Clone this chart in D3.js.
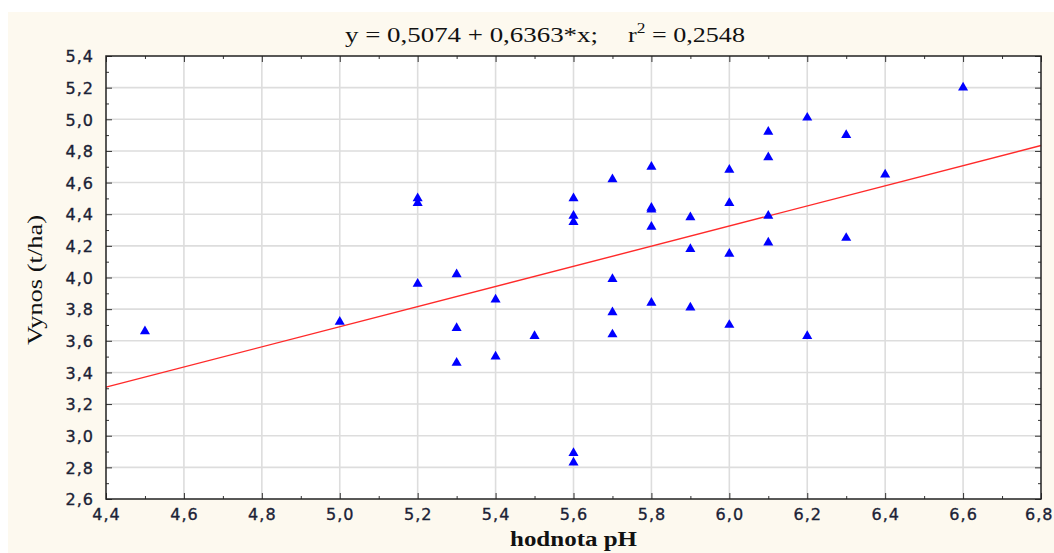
<!DOCTYPE html>
<html>
<head>
<meta charset="utf-8">
<script src="https://cdn.jsdelivr.net/npm/d3@7"></script>
<style>
  html, body { margin: 0; padding: 0; background: #ffffff; }
  svg { display: block; }
</style>
</head>
<body>
<svg id="chart" width="1054" height="553"></svg>
<script>
// ---- data ----
const phValues = [4.5, 5.0, 5.2, 5.2, 5.2, 5.3, 5.3, 5.3, 5.4, 5.4, 5.5,
  5.6, 5.6, 5.6, 5.6, 5.6, 5.7, 5.7, 5.7, 5.7,
  5.8, 5.8, 5.8, 5.8, 5.8, 5.9, 5.9, 5.9,
  6.0, 6.0, 6.0, 6.0, 6.1, 6.1, 6.1, 6.1,
  6.2, 6.2, 6.3, 6.3, 6.4, 6.6];
const yieldValues = [3.66, 3.72, 4.50, 4.47, 3.96, 4.02, 3.68, 3.46, 3.86, 3.50, 3.63,
  4.50, 4.39, 4.35, 2.89, 2.83, 4.62, 3.99, 3.78, 3.64,
  4.70, 4.44, 4.43, 4.32, 3.84, 4.38, 4.18, 3.81,
  4.68, 4.47, 4.15, 3.70, 4.92, 4.76, 4.39, 4.22,
  5.01, 3.63, 4.90, 4.25, 4.65, 5.20];
const regIntercept = 0.5074;
const regSlope = 0.6363;
const xTickValues = [4.4, 4.6, 4.8, 5.0, 5.2, 5.4, 5.6, 5.8, 6.0, 6.2, 6.4, 6.6, 6.8];
const yTickValues = [2.6, 2.8, 3.0, 3.2, 3.4, 3.6, 3.8, 4.0, 4.2, 4.4, 4.6, 4.8, 5.0, 5.2, 5.4];
const xMinorValues = [4.5, 4.7, 4.9, 5.1, 5.3, 5.5, 5.7, 5.9, 6.1, 6.3, 6.5, 6.7];
const yMinorValues = [2.7, 2.9, 3.1, 3.3, 3.5, 3.7, 3.9, 4.1, 4.3, 4.5, 4.7, 4.9, 5.1, 5.3];
const titleLeft = "y = 0,5074 + 0,6363*x;";
const titleRight = ["r", "2", " = 0,2548"];
const xLabel = "hodnota pH";
const yLabel = "Vynos (t/ha)";

// ---- layout ----
const svg = d3.select("#chart");
const W = 1054, H = 553;
const plot = { left: 106, right: 1041, top: 56, bottom: 499 };

svg.append("rect").attr("x", 8).attr("y", 12).attr("width", W - 8).attr("height", H - 12)
  .attr("fill", "#fdf9ef");
svg.append("rect").attr("x", plot.left).attr("y", plot.top)
  .attr("width", plot.right - plot.left).attr("height", plot.bottom - plot.top)
  .attr("fill", "#ffffff");

const x = d3.scaleLinear().domain([4.4, 6.8]).range([plot.left, plot.right]);
const y = d3.scaleLinear().domain([2.6, 5.4]).range([plot.bottom, plot.top]);

// grid
const grid = svg.append("g");
grid.selectAll("line.gx").data(xTickValues.slice(1, -1)).enter().append("line")
  .attr("x1", d => x(d)).attr("x2", d => x(d)).attr("y1", plot.top).attr("y2", plot.bottom)
  .attr("stroke", "#dddddd").attr("stroke-width", 1.6);
grid.selectAll("line.gy").data(yTickValues.slice(1, -1)).enter().append("line")
  .attr("x1", plot.left).attr("x2", plot.right).attr("y1", d => y(d)).attr("y2", d => y(d))
  .attr("stroke", "#dddddd").attr("stroke-width", 1.6);

// regression line
svg.append("line")
  .attr("x1", x(4.4)).attr("y1", y(regIntercept + regSlope * 4.4))
  .attr("x2", x(6.8)).attr("y2", y(regIntercept + regSlope * 6.8))
  .attr("stroke", "#ff2a2a").attr("stroke-width", 1.4);

// points
const tri = d3.symbol().type(d3.symbolTriangle).size(44);
svg.append("g").selectAll("path").data(phValues.map((p, i) => [p, yieldValues[i]]))
  .enter().append("path")
  .attr("d", tri)
  .attr("transform", d => `translate(${x(d[0])},${y(d[1])})`)
  .attr("fill", "#0000ff");

// axes (ticks inside)
const tickColor = "#333333";
function addAxis(axisFn, scale, tr, major, minor, majLen, minLen, labels) {
  const gMaj = svg.append("g").attr("transform", tr)
    .call(axisFn(scale).tickValues(major).tickSize(-majLen).tickFormat(labels ? d => d3.format(".1f")(d).replace(".", ",") : ""));
  const gMin = svg.append("g").attr("transform", tr)
    .call(axisFn(scale).tickValues(minor).tickSize(-minLen).tickFormat(""));
  [gMaj, gMin].forEach(g => {
    g.select(".domain").remove();
    g.selectAll(".tick line").attr("stroke", tickColor).attr("stroke-width", 1);
  });
  return gMaj;
}
const gx = addAxis(d3.axisBottom, x, `translate(0,${plot.bottom})`, xTickValues, xMinorValues, 6, 3, true);
addAxis(d3.axisTop, x, `translate(0,${plot.top})`, xTickValues, xMinorValues, 6, 3, false);
const gy = addAxis(d3.axisLeft, y, `translate(${plot.left},0)`, yTickValues, yMinorValues, 6, 3, true);
addAxis(d3.axisRight, y, `translate(${plot.right},0)`, yTickValues, yMinorValues, 6, 3, false);

function styleTick(sel) {
  sel.attr("font-family", "DejaVu Sans").attr("font-size", 16)
    .attr("letter-spacing", "1px")
    .attr("fill", "#1b2236").attr("stroke", "#1b2236").attr("stroke-width", 0.35);
}
gx.selectAll(".tick text")
  .attr("y", 0).attr("dy", null)
  .attr("transform", "translate(0,21)")
  .call(styleTick);
// keep the last label inside the picture
gx.selectAll(".tick text").filter(d => d === 6.8)
  .attr("text-anchor", "end").attr("x", 12);
gy.selectAll(".tick text")
  .attr("x", -12).attr("dy", "0.36em")
  .call(styleTick);
[gx, gy].forEach(g => g.attr("font-family", null));

// frame
svg.append("rect").attr("x", plot.left).attr("y", plot.top)
  .attr("width", plot.right - plot.left).attr("height", plot.bottom - plot.top)
  .attr("fill", "none").attr("stroke", "#222222").attr("stroke-width", 1.5);

// title
svg.append("text").attr("x", 345).attr("y", 42)
  .attr("font-family", "Liberation Serif").attr("font-size", 21).attr("fill", "#111")
  .attr("textLength", 253).attr("lengthAdjust", "spacingAndGlyphs")
  .text(titleLeft);
const t2 = svg.append("text").attr("x", 628).attr("y", 42)
  .attr("font-family", "Liberation Serif").attr("font-size", 21).attr("fill", "#111");
t2.append("tspan").text(titleRight[0]);
t2.append("tspan").attr("dy", -9).attr("font-size", 14).text(titleRight[1]);
t2.append("tspan").attr("dy", 9).text(titleRight[2]);
// stretch right part to match reference width
const t2w = t2.node().getComputedTextLength();
t2.attr("transform", `translate(628,0) scale(${117 / t2w},1) translate(-628,0)`);

// axis labels
svg.append("text").attr("x", 510).attr("y", 546)
  .attr("font-family", "Liberation Serif").attr("font-weight", "bold").attr("font-size", 20)
  .attr("textLength", 127).attr("lengthAdjust", "spacingAndGlyphs")
  .attr("fill", "#111").text(xLabel);
svg.append("text").attr("transform", "translate(42,345) rotate(-90)")
  .attr("font-family", "Liberation Serif").attr("font-size", 22).attr("fill", "#111")
  .attr("textLength", 130).attr("lengthAdjust", "spacingAndGlyphs")
  .text(yLabel);
</script>
</body>
</html>
